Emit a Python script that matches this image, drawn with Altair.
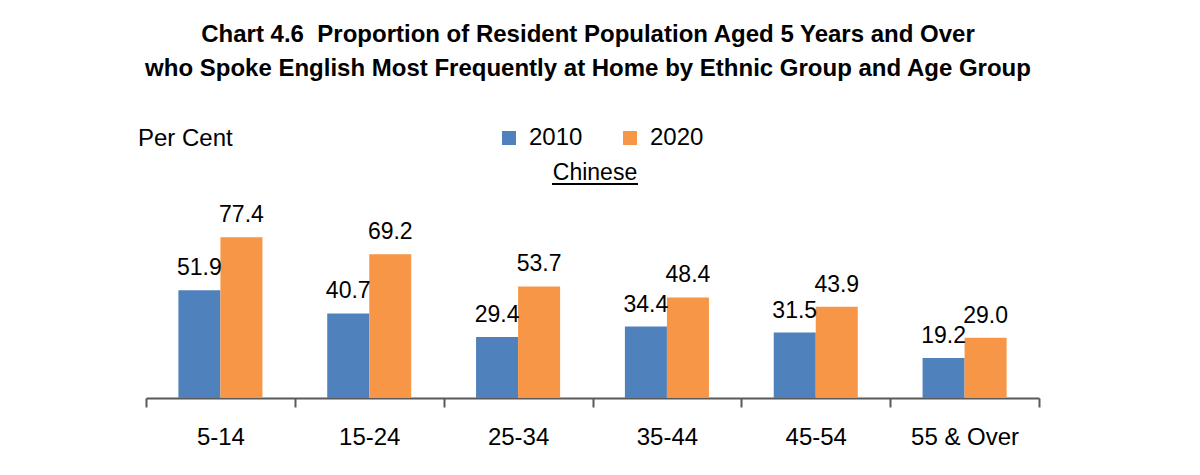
import altair as alt
import pandas as pd

age_groups = ["5-14", "15-24", "25-34", "35-44", "45-54", "55 & Over"]
years = ["2010", "2020"]
values_2010 = [51.9, 40.7, 29.4, 34.4, 31.5, 19.2]
values_2020 = [77.4, 69.2, 53.7, 48.4, 43.9, 29.0]
colors = ["#4f81bd", "#f79646"]

title_line1 = "Chart 4.6\u00a0\u00a0Proportion of Resident Population Aged 5 Years and Over"
title_line2 = "who Spoke English Most Frequently at Home by Ethnic Group and Age Group"
unit_label = "Per Cent"
panel_label = "Chinese"

rows = []
for i, g in enumerate(age_groups):
    rows.append({"age": g, "year": years[0], "value": values_2010[i]})
    rows.append({"age": g, "year": years[1], "value": values_2020[i]})
df = pd.DataFrame(rows)

FONT = "Liberation Sans"

x_enc = alt.X(
    "age:N", sort=age_groups, title=None,
    scale=alt.Scale(paddingInner=0, paddingOuter=0),
    axis=alt.Axis(labelAngle=0, labelFontSize=24, labelFont=FONT, labelColor="#000000",
                  domainColor="#595959", domainWidth=2, tickColor="#595959", tickWidth=2,
                  tickSize=9, tickBand="extent", labelPadding=18, grid=False),
)
y_enc = alt.Y("value:Q", scale=alt.Scale(domain=[0, 90]), axis=None)
xoff = alt.XOffset("year:N", sort=years, scale=alt.Scale(paddingInner=0, paddingOuter=0.771))

bars = alt.Chart(df).mark_bar().encode(
    x=x_enc, y=y_enc, xOffset=xoff,
    color=alt.Color("year:N", sort=years, scale=alt.Scale(domain=years, range=colors),
                    legend=alt.Legend(title=None, orient="none", legendX=351, legendY=-85,
                                      direction="horizontal", symbolType="square", symbolSize=196,
                                      symbolStrokeWidth=0, labelFontSize=24, labelFont=FONT,
                                      labelColor="#000000", labelOffset=8, columnPadding=35)),
)

labels = alt.Chart(df).mark_text(fontSize=23, font=FONT, color="#000000", baseline="alphabetic",
                                 dy=-15).encode(
    x=x_enc, y=y_enc, xOffset=xoff,
    text=alt.Text("value:Q", format=".1f"),
)

base_txt = alt.Chart(pd.DataFrame({"t": [0]}))
t1 = base_txt.mark_text(fontSize=24, font=FONT, fontWeight="bold", color="#000000",
                        align="center", baseline="alphabetic").encode(
    x=alt.value(442), y=alt.value(-169), text=alt.value(title_line1))
t2 = base_txt.mark_text(fontSize=24, font=FONT, fontWeight="bold", color="#000000",
                        align="center", baseline="alphabetic").encode(
    x=alt.value(442), y=alt.value(-135), text=alt.value(title_line2))
t_unit = base_txt.mark_text(fontSize=24, font=FONT, color="#000000",
                            align="left", baseline="alphabetic").encode(
    x=alt.value(-8), y=alt.value(-65), text=alt.value(unit_label))
t_panel = base_txt.mark_text(fontSize=23, font=FONT, color="#000000",
                             align="center", baseline="alphabetic").encode(
    x=alt.value(449), y=alt.value(-31), text=alt.value(panel_label))
underline = base_txt.mark_rule(color="#000000", strokeWidth=2).encode(
    x=alt.value(406), x2=alt.value(492), y=alt.value(-27))

chart = alt.layer(bars, labels, t1, t2, t_unit, t_panel, underline).properties(
    width=893, height=187,
    background="#ffffff",
    autosize=alt.AutoSizeParams(type="none"),
    padding={"left": 138, "top": 203, "right": 100, "bottom": 70},
).configure_view(strokeWidth=0, stroke=None)

chart.save("out.html", embed_options={"renderer": "svg", "actions": False})
